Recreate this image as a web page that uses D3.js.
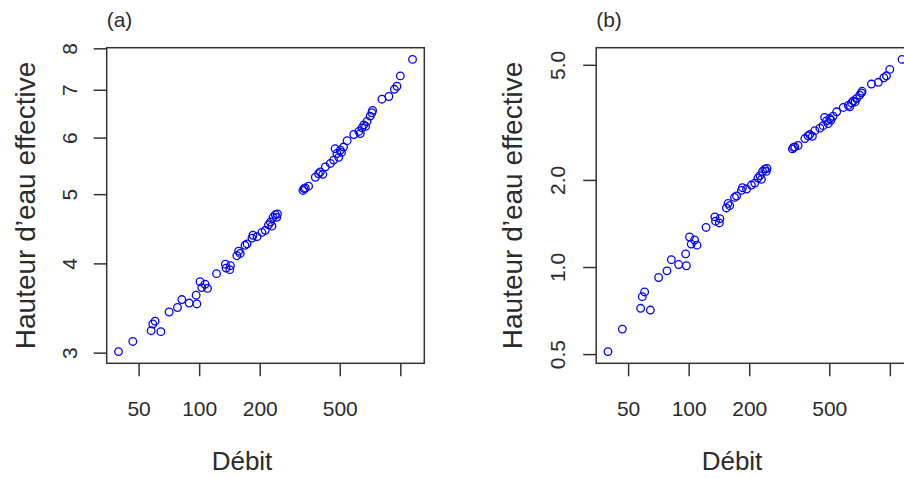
<!DOCTYPE html>
<html>
<head>
<meta charset="utf-8">
<script src="https://cdn.jsdelivr.net/npm/d3@7"></script>
<style>
  body { margin: 0; background: #fff; }
  svg { display: block; }
  text { font-family: "Liberation Sans", Arial, sans-serif; fill: #2b2b2b; }
</style>
</head>
<body>
<script>
/*
 * Two log-log scatterplots (R style): débit vs hauteur d'eau effective.
 */

// débit (same for both panels)
const DEBIT = [39.7, 46.8, 57.7, 58.8, 60.4, 64.5, 70.9, 78.0, 82.0, 89.2,
  96.6, 97.4, 101, 103, 107, 110, 122, 135, 136, 142,
  143, 154, 157, 160, 169, 173, 183, 185, 194, 205,
  213, 221, 226, 230, 233, 239, 243, 245, 328, 332,
  337, 350, 378, 392, 400, 412, 424, 449, 466, 474,
  484, 494, 503, 510, 522, 544, 587, 622, 632, 645,
  658, 672, 683, 708, 722, 728, 810, 877, 934, 962,
  1000, 1150];

// panel (a) : hauteur d'eau
const HAUTEUR_A = [3.01, 3.11, 3.22, 3.29, 3.32, 3.21, 3.42, 3.47, 3.56, 3.52,
  3.61, 3.51, 3.77, 3.70, 3.74, 3.69, 3.87, 3.99, 3.94, 3.92,
  3.97, 4.10, 4.16, 4.13, 4.24, 4.26, 4.34, 4.38, 4.36, 4.42,
  4.45, 4.53, 4.57, 4.51, 4.64, 4.68, 4.64, 4.69, 5.06, 5.09,
  5.10, 5.13, 5.28, 5.34, 5.37, 5.33, 5.46, 5.52, 5.58, 5.79,
  5.70, 5.63, 5.76, 5.72, 5.82, 5.94, 6.06, 6.12, 6.08, 6.19,
  6.25, 6.22, 6.32, 6.43, 6.50, 6.55, 6.79, 6.85, 7.01, 7.08,
  7.32, 7.72];

// panel (b) : hauteur d'eau effective
const HAUTEUR_B = [0.51, 0.61, 0.72, 0.79, 0.82, 0.71, 0.92, 0.97, 1.06, 1.02,
  1.11, 1.01, 1.27, 1.20, 1.24, 1.19, 1.37, 1.49, 1.44, 1.42,
  1.47, 1.60, 1.66, 1.63, 1.74, 1.76, 1.84, 1.88, 1.86, 1.92,
  1.95, 2.03, 2.07, 2.01, 2.14, 2.18, 2.14, 2.19, 2.56, 2.59,
  2.60, 2.63, 2.78, 2.84, 2.87, 2.83, 2.96, 3.02, 3.08, 3.29,
  3.20, 3.13, 3.26, 3.22, 3.32, 3.44, 3.56, 3.62, 3.58, 3.69,
  3.75, 3.72, 3.82, 3.93, 4.00, 4.05, 4.29, 4.35, 4.51, 4.58,
  4.82, 5.22];

const X_TICKS = [50, 100, 200, 500, 1000];
const X_TICK_LABELS = ['50', '100', '200', '500', ''];
const Y_TICKS_A = [3, 4, 5, 6, 7, 8];
const Y_TICK_LABELS_A = ['3', '4', '5', '6', '7', '8'];
const Y_TICKS_B = [0.5, 1, 2, 5];
const Y_TICK_LABELS_B = ['0.5', '1.0', '2.0', '5.0'];

// layout
const WIDTH = 904;
const HEIGHT = 478;
const BOX_TOP = 47.7;
const BOX_W = 317.6;
const BOX_H = 315.6;
const TICK_LEN = 13;
const TICK_FONT = 21;
const X_TITLE_FONT = 26;
const Y_TITLE_FONT = 28;
const LINE_COLOR = '#333';
const POINT_COLOR = '#0000ff';

// R pads a log axis by 4% of the data range on each side
const logPadded = values => {
  const [lo, hi] = d3.extent(values);
  const a = Math.log10(lo), b = Math.log10(hi);
  const pad = (b - a) * 0.04;
  return [10 ** (a - pad), 10 ** (b + pad)];
};

const svg = d3.select('body')
  .append('svg')
    .attr('width', WIDTH)
    .attr('height', HEIGHT);

svg.append('rect')
    .attr('width', WIDTH)
    .attr('height', HEIGHT)
    .attr('fill', '#fff');

const drawPanel = p => {
  const g = svg.append('g');
  const bottom = BOX_TOP + BOX_H;

  const xScale = d3.scaleLog()
      .domain(logPadded(DEBIT))
      .range([p.left, p.left + BOX_W]);

  const yScale = d3.scaleLog()
      .domain(logPadded(p.hauteur))
      .range([bottom, BOX_TOP]);

  // x axis
  const xAxis = d3.axisBottom(xScale)
      .tickValues(X_TICKS)
      .tickSize(TICK_LEN)
      .tickFormat((d, i) => X_TICK_LABELS[i]);

  g.append('g')
      .attr('transform', `translate(0, ${bottom})`)
      .call(xAxis)
      .call(a => a.select('.domain').remove())
      .call(a => a.selectAll('line')
          .attr('stroke', LINE_COLOR)
          .attr('stroke-width', 1.5))
      .call(a => a.selectAll('text')
          .attr('y', 53)
          .attr('dy', 0)
          .attr('font-size', TICK_FONT)
          .attr('font-family', null)
          .attr('fill', null));

  // y axis, labels parallel to the axis like R
  const yAxis = d3.axisLeft(yScale)
      .tickValues(p.yTicks)
      .tickSize(TICK_LEN)
      .tickFormat((d, i) => p.yTickLabels[i]);

  g.append('g')
      .attr('transform', `translate(${p.left}, 0)`)
      .call(yAxis)
      .call(a => a.select('.domain').remove())
      .call(a => a.selectAll('line')
          .attr('stroke', LINE_COLOR)
          .attr('stroke-width', 1.5))
      .call(a => a.selectAll('text')
          .attr('x', 0)
          .attr('y', p.yLabelX - p.left)
          .attr('dy', 0)
          .attr('transform', 'rotate(-90)')
          .attr('text-anchor', 'middle')
          .attr('font-size', TICK_FONT)
          .attr('font-family', null)
          .attr('fill', null));

  // points
  g.append('g')
    .selectAll('circle')
    .data(DEBIT)
    .enter()
    .append('circle')
      .attr('cx', d => xScale(d))
      .attr('cy', (d, i) => yScale(p.hauteur[i]))
      .attr('r', 3.8)
      .attr('fill', 'none')
      .attr('stroke', POINT_COLOR)
      .attr('stroke-width', 1.3);

  // box
  g.append('rect')
      .attr('x', p.left)
      .attr('y', BOX_TOP)
      .attr('width', BOX_W)
      .attr('height', BOX_H)
      .attr('fill', 'none')
      .attr('stroke', LINE_COLOR)
      .attr('stroke-width', 1.5);

  // axis titles
  g.append('text')
      .attr('x', p.xTitleX)
      .attr('y', 470)
      .attr('text-anchor', 'middle')
      .attr('font-size', X_TITLE_FONT)
      .text('Débit');

  g.append('text')
      .attr('transform', `translate(${p.yTitleX}, ${BOX_TOP + BOX_H / 2}) rotate(-90)`)
      .attr('text-anchor', 'middle')
      .attr('font-size', Y_TITLE_FONT)
      .text('Hauteur d\u2019eau effective');

  // panel tag
  g.append('text')
      .attr('x', p.left)
      .attr('y', 27)
      .attr('font-size', 21)
      .text(p.tag);
};

drawPanel({
  tag: '(a)', left: 106.7, hauteur: HAUTEUR_A,
  yTicks: Y_TICKS_A, yTickLabels: Y_TICK_LABELS_A,
  yLabelX: 76.5, yTitleX: 35, xTitleX: 242
});

drawPanel({
  tag: '(b)', left: 596.2, hauteur: HAUTEUR_B,
  yTicks: Y_TICKS_B, yTickLabels: Y_TICK_LABELS_B,
  yLabelX: 565, yTitleX: 521.5, xTitleX: 732
});
</script>
</body>
</html>
